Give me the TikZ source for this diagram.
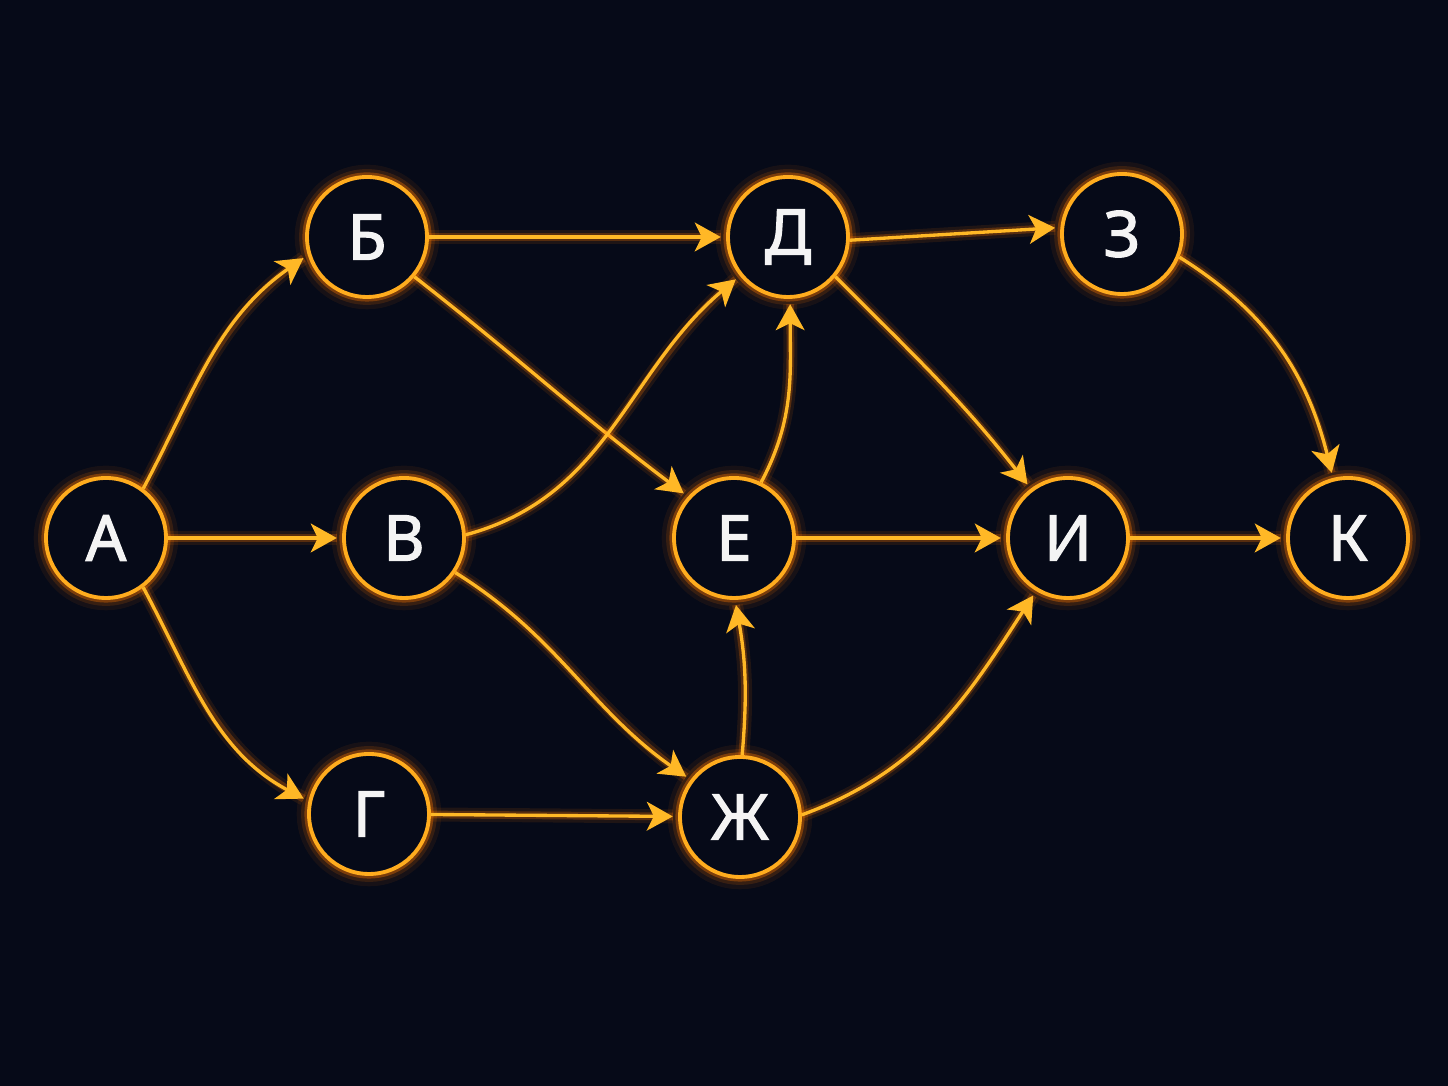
\documentclass[tikz,border=0pt]{standalone}
\usepackage{fontspec}
\setmainfont{Noto Sans}
\newfontfamily\lettersans[FakeBold=2]{Noto Sans}
\usetikzlibrary{arrows.meta}
\definecolor{bg}{RGB}{6,10,24}
\definecolor{ring}{RGB}{255,172,30}
\definecolor{wire}{RGB}{255,184,38}
\definecolor{halo}{RGB}{255,118,0}
\definecolor{letter}{RGB}{244,244,244}
\begin{document}
\begin{tikzpicture}[
        vertex/.style={circle, draw=ring, fill=bg, line width=1.1pt, minimum size=1.2cm, inner sep=0pt,
            text=letter, font=\lettersans\fontsize{18}{21}\selectfont,
            preaction={draw=halo, line width=7pt, opacity=0.07},
            preaction={draw=halo, line width=4.5pt, opacity=0.14},
            preaction={draw=halo, line width=2.6pt, opacity=0.35}},
        flow/.style={draw=wire, line width=0.95pt, shorten >=1.5pt,
            -{Stealth[length=7.4pt, width=8.2pt, inset=2pt]},
            preaction={draw=halo, line width=4pt, opacity=0.1, -},
            preaction={draw=halo, line width=2.2pt, opacity=0.25, -}}
    ]
    \fill[bg] (0, 0) rectangle (14.48, 10.86);
    \useasboundingbox (0, 0) rectangle (14.48, 10.86);
    \node[vertex] (a) at (1.06, 5.48) {А};
    \node[vertex] (b) at (3.67, 8.49) {Б};
    \node[vertex] (v) at (4.04, 5.48) {В};
    \node[vertex] (g) at (3.69, 2.72) {Г};
    \node[vertex] (d) at (7.88, 8.49) {Д};
    \node[vertex] (e) at (7.34, 5.48) {Е};
    \node[vertex] (zh) at (7.40, 2.69) {Ж};
    \node[vertex] (z) at (11.22, 8.52) {З};
    \node[vertex] (i) at (10.68, 5.48) {И};
    \node[vertex] (k) at (13.48, 5.48) {К};
    \draw[flow] (a.53) to[out=62, in=215] (b.197);
    \draw[flow] (a) -- (v);
    \draw[flow] (a.-53) to[out=-62, in=152] (g.168);
    \draw[flow] (b) -- (d);
    \draw[flow] (b.-40) to[out=-38, in=143] (e.138);
    \draw[flow] (v.3) to[out=15, in=220] (d.219);
    \draw[flow] (v.-34) to[out=-32, in=145] (zh.143);
    \draw[flow] (g) -- (zh);
    \draw[flow] (d.-3) -- (z.174);
    \draw[flow] (d.-40) to[out=-45, in=128] (i.127);
    \draw[flow] (e.64) to[out=62, in=-90] (d.-88);
    \draw[flow] (e) -- (i);
    \draw[flow] (zh.88) to[out=85, in=-80] (e.-89);
    \draw[flow] (zh.2) to[out=20, in=-123] (i.-121);
    \draw[flow] (z.-22) to[out=-32, in=104] (k.104);
    \draw[flow] (i) -- (k);
\end{tikzpicture}
\end{document}
